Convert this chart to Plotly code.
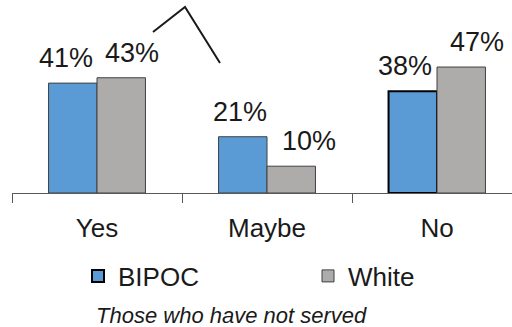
import plotly.graph_objects as go

categories = ["Yes", "Maybe", "No"]
bipoc = [41, 21, 38]
white = [43, 10, 47]
series_names = ["BIPOC", "White"]

# styling (not data)
label_dx = {"BIPOC": [-31, -27, -32], "White": [35, 42, 40]}
FONT = "Liberation Sans, Arial, sans-serif"
BLUE, GREY = "#5B9BD5", "#AEABAB"
W, H = 512, 327
ML, MR, MT, MB = 12, 0, 0, 134
cat_px = 170.0
plot_w = W - ML - MR
plot_h = H - MT - MB
px_per_pct = 2.68

fig = go.Figure()
fig.add_trace(go.Bar(
    x=categories, y=bipoc, name=series_names[0], showlegend=False,
    marker=dict(color=BLUE,
                line=dict(color=["#404040", "#404040", "#000000"], width=[1, 1, 2])),
))
fig.add_trace(go.Bar(
    x=categories, y=white, name=series_names[1], showlegend=False,
    marker=dict(color=GREY, line=dict(color="#404040", width=1)),
))
# legend entries (drawn on a hidden, empty-range axis so they don't affect bar grouping)
fig.add_trace(go.Bar(
    x=[categories[0]], y=[bipoc[0]], name=series_names[0], legend="legend",
    xaxis="x2", yaxis="y2",
    marker=dict(color=BLUE, line=dict(color="#000000", width=2)),
))
fig.add_trace(go.Bar(
    x=[categories[0]], y=[white[0]], name=series_names[1], legend="legend2",
    xaxis="x2", yaxis="y2",
    marker=dict(color=GREY, line=dict(color="#404040", width=1)),
))

annotations = []
for name, vals in ((series_names[0], bipoc), (series_names[1], white)):
    for j, (c, v) in enumerate(zip(categories, vals)):
        annotations.append(dict(
            x=c, y=v, xref="x", yref="y", text=f"{v}%", showarrow=False,
            xanchor="center", yanchor="bottom", xshift=label_dx[name][j], yshift=8,
            font=dict(family=FONT, size=27, color="#1a1a1a"),
        ))

annotations.append(dict(
    x=(94 - ML) / plot_w, y=-(315 - plot_h) / plot_h, xref="paper", yref="paper",
    text="<i>Those who have not served</i>", showarrow=False,
    xanchor="left", yanchor="middle",
    font=dict(family=FONT, size=22, color="#1a1a1a"),
))

def P(px, py):
    return f"{(px - ML) / plot_w:.4f},{(plot_h - (py - MT)) / plot_h:.4f}"

legend_font = dict(family=FONT, size=26, color="#1a1a1a")
leg_y = -(276 - plot_h) / plot_h

fig.update_layout(
    width=W, height=H,
    margin=dict(l=ML, r=MR, t=MT, b=MB),
    paper_bgcolor="white", plot_bgcolor="white",
    barmode="group", bargap=0.43, bargroupgap=0,
    showlegend=True,
    legend=dict(orientation="h", x=(78 - ML) / plot_w, xanchor="left",
                y=leg_y, yanchor="middle", font=legend_font, itemclick=False,
                bgcolor="rgba(0,0,0,0)"),
    legend2=dict(orientation="h", x=(308 - ML) / plot_w, xanchor="left",
                 y=leg_y, yanchor="middle", font=legend_font, itemclick=False,
                 bgcolor="rgba(0,0,0,0)"),
    xaxis=dict(
        range=[-0.5, -0.5 + plot_w / cat_px],
        showline=True, linecolor="#595959", linewidth=1,
        ticks="outside", tickson="boundaries", ticklen=9, tickcolor="#595959",
        ticklabelstandoff=12,
        tickfont=dict(family=FONT, size=26, color="#1a1a1a"),
        showgrid=False, zeroline=False, fixedrange=True,
    ),
    yaxis=dict(range=[0, plot_h / px_per_pct], visible=False, showgrid=False,
               zeroline=False, fixedrange=True),
    xaxis2=dict(overlaying="x", visible=False, range=[10, 11], type="linear",
                fixedrange=True),
    yaxis2=dict(overlaying="y", visible=False, range=[0, 1], fixedrange=True),
    annotations=annotations,
    shapes=[dict(type="path", xref="paper", yref="paper",
                 path=f"M{P(153, 32)} L{P(185, 7)} L{P(220, 63)}",
                 line=dict(color="#1a1a1a", width=2))],
)

fig.write_html("out.html")
